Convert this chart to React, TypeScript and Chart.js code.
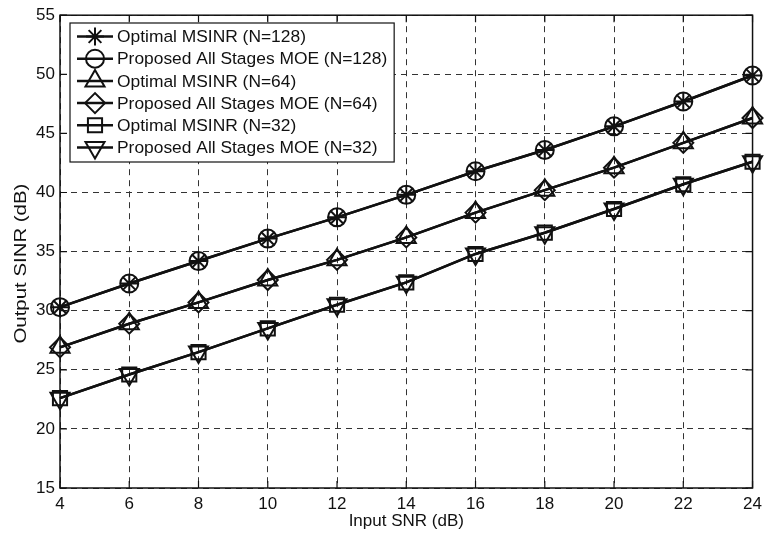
import React, { useEffect, useRef } from 'react';
import { Chart, registerables } from 'chart.js';
import { drawPoint } from 'chart.js/helpers';

Chart.register(...registerables);

// ---- data ----
const inputSnr = [4, 6, 8, 10, 12, 14, 16, 18, 20, 22, 24];
const optimalN128 = [30.3, 32.3, 34.2, 36.1, 37.9, 39.8, 41.8, 43.6, 45.6, 47.7, 49.9];
const proposedN128 = [30.3, 32.3, 34.2, 36.1, 37.9, 39.8, 41.8, 43.6, 45.6, 47.7, 49.9];
const optimalN64 = [26.9, 28.9, 30.7, 32.6, 34.3, 36.2, 38.3, 40.2, 42.1, 44.2, 46.3];
const proposedN64 = [26.9, 28.9, 30.7, 32.6, 34.3, 36.2, 38.3, 40.2, 42.1, 44.2, 46.3];
const optimalN32 = [22.6, 24.6, 26.5, 28.5, 30.5, 32.4, 34.8, 36.6, 38.6, 40.7, 42.6];
const proposedN32 = [22.6, 24.6, 26.5, 28.5, 30.5, 32.4, 34.8, 36.6, 38.6, 40.7, 42.6];

const seriesLabels = [
  'Optimal MSINR (N=128)',
  'Proposed All Stages MOE (N=128)',
  'Optimal MSINR (N=64)',
  'Proposed All Stages MOE (N=64)',
  'Optimal MSINR (N=32)',
  'Proposed All Stages MOE (N=32)',
];
const seriesValues = [optimalN128, proposedN128, optimalN64, proposedN64, optimalN32, proposedN32];

const xMin = 4;
const xMax = 24;
const xStep = 2;
const yMin = 15;
const yMax = 55;
const yStep = 5;
const xTitle = 'Input SNR (dB)';
const yTitle = 'Output SINR (dB)';

// ---- styles ----
const INK = '#111111';
const FONT = "'Liberation Sans', Arial, Helvetica, sans-serif";
const markerStyles = [
  { pointStyle: 'star', radius: 9, rotation: 0 },
  { pointStyle: 'circle', radius: 9, rotation: 0 },
  { pointStyle: 'triangle', radius: 11, rotation: 0 },
  { pointStyle: 'rectRot', radius: 10, rotation: 0 },
  { pointStyle: 'rect', radius: 10, rotation: 0 },
  { pointStyle: 'triangle', radius: 11, rotation: 180 },
];

const framePlugin = {
  id: 'frame',
  beforeDatasetsDraw(chart: any) {
    const { ctx, chartArea } = chart;
    const { left, right, top, bottom } = chartArea;
    ctx.save();
    ctx.strokeStyle = INK;
    ctx.lineWidth = 1.5;
    ctx.setLineDash([]);
    ctx.strokeRect(left, top, right - left, bottom - top);
    const tl = 7;
    ctx.lineWidth = 1.2;
    ctx.beginPath();
    chart.scales.x.ticks.forEach((t: any) => {
      const px = chart.scales.x.getPixelForValue(t.value);
      ctx.moveTo(px, bottom);
      ctx.lineTo(px, bottom - tl);
      ctx.moveTo(px, top);
      ctx.lineTo(px, top + tl);
    });
    chart.scales.y.ticks.forEach((t: any) => {
      const py = chart.scales.y.getPixelForValue(t.value);
      ctx.moveTo(left, py);
      ctx.lineTo(left + tl, py);
      ctx.moveTo(right, py);
      ctx.lineTo(right - tl, py);
    });
    ctx.stroke();
    ctx.restore();
  },
};

// y-axis title drawn slightly stretched along its length, as in the reference
const yTitlePlugin = {
  id: 'yTitle',
  afterDraw(chart: any) {
    const { ctx, chartArea } = chart;
    const cy = (chartArea.top + chartArea.bottom) / 2 + 12;
    ctx.save();
    ctx.translate(21, cy);
    ctx.rotate(-Math.PI / 2);
    ctx.scale(1.2, 1);
    ctx.font = `17px ${FONT}`;
    ctx.fillStyle = INK;
    ctx.textAlign = 'center';
    ctx.textBaseline = 'middle';
    ctx.fillText(yTitle, 0, 0);
    ctx.restore();
  },
};

const legendPlugin = {
  id: 'matlabLegend',
  afterDraw(chart: any) {
    const { ctx } = chart;
    const boxX = 70;
    const boxY = 23;
    const rowH = 22.2;
    const padTop = 13.5;
    const lineX0 = 77;
    const lineX1 = 113;
    const markX = 95;
    const textX = 117;
    ctx.save();
    ctx.font = `17.4px ${FONT}`;
    let maxW = 0;
    chart.data.datasets.forEach((ds: any) => {
      maxW = Math.max(maxW, ctx.measureText(ds.label).width);
    });
    const boxW = textX + maxW + 7 - boxX;
    const boxH = padTop * 2 + rowH * (chart.data.datasets.length - 1) + 1;
    ctx.fillStyle = '#ffffff';
    ctx.fillRect(boxX, boxY, boxW, boxH);
    ctx.strokeStyle = INK;
    ctx.lineWidth = 1.2;
    ctx.setLineDash([]);
    ctx.strokeRect(boxX, boxY, boxW, boxH);
    chart.data.datasets.forEach((ds: any, i: number) => {
      const cy = boxY + padTop + i * rowH;
      ctx.strokeStyle = INK;
      ctx.lineWidth = 2.5;
      ctx.beginPath();
      ctx.moveTo(lineX0, cy);
      ctx.lineTo(lineX1, cy);
      ctx.stroke();
      ctx.lineWidth = 2;
      ctx.strokeStyle = INK;
      ctx.fillStyle = 'rgba(0,0,0,0)';
      drawPoint(ctx, {
        pointStyle: ds.pointStyle,
        radius: ds.pointRadius,
        rotation: ds.pointRotation,
        borderWidth: 2,
      }, markX, cy);
      ctx.fillStyle = INK;
      ctx.textBaseline = 'middle';
      ctx.textAlign = 'left';
      ctx.fillText(ds.label, textX, cy + 1);
    });
    ctx.restore();
  },
};

export default function App() {
  const canvasRef = useRef<HTMLCanvasElement | null>(null);

  useEffect(() => {
    if (!canvasRef.current) return;
    const datasets = seriesValues.map((vals, i) => ({
      label: seriesLabels[i],
      data: inputSnr.map((x, j) => ({ x, y: vals[j] })),
      borderColor: INK,
      borderWidth: 2.5,
      backgroundColor: 'rgba(0,0,0,0)',
      fill: false,
      tension: 0,
      pointStyle: markerStyles[i].pointStyle,
      pointRadius: markerStyles[i].radius,
      pointRotation: markerStyles[i].rotation,
      pointBorderWidth: 2,
      pointBorderColor: INK,
      pointBackgroundColor: 'rgba(0,0,0,0)',
      clip: false,
    }));

    const chart = new Chart(canvasRef.current, {
      type: 'line',
      data: { datasets },
      options: {
        animation: false,
        responsive: false,
        maintainAspectRatio: false,
        layout: { padding: { top: 15, right: 11, left: 0, bottom: 0 } },
        plugins: {
          legend: { display: false },
          tooltip: { enabled: false },
        },
        scales: {
          x: {
            type: 'linear',
            min: xMin,
            max: xMax,
            afterFit: (s: any) => { s.height = 46; },
            ticks: {
              stepSize: xStep,
              padding: 6,
              color: INK,
              font: { family: FONT, size: 17 },
              maxRotation: 0,
            },
            grid: { color: '#333333', lineWidth: 1, drawTicks: false },
            border: { display: false, dash: [6, 5] },
            title: {
              display: true,
              text: xTitle,
              color: INK,
              font: { family: FONT, size: 17 },
              padding: { top: 0, bottom: 2 },
            },
          },
          y: {
            type: 'linear',
            min: yMin,
            max: yMax,
            afterFit: (s: any) => { s.width = 60; },
            ticks: {
              stepSize: yStep,
              padding: 5,
              color: INK,
              font: { family: FONT, size: 17 },
            },
            grid: { color: '#333333', lineWidth: 1, drawTicks: false },
            border: { display: false, dash: [6, 5] },
            title: { display: false, text: yTitle },
          },
        },
      },
      plugins: [framePlugin, legendPlugin, yTitlePlugin],
    } as any);
    return () => chart.destroy();
  }, []);

  return (
    <div style={{ position: 'absolute', left: 0, top: 0, width: 768, height: 534, background: '#fff' }}>
      <canvas ref={canvasRef} width={768} height={534} style={{ display: 'block' }} />
    </div>
  );
}
